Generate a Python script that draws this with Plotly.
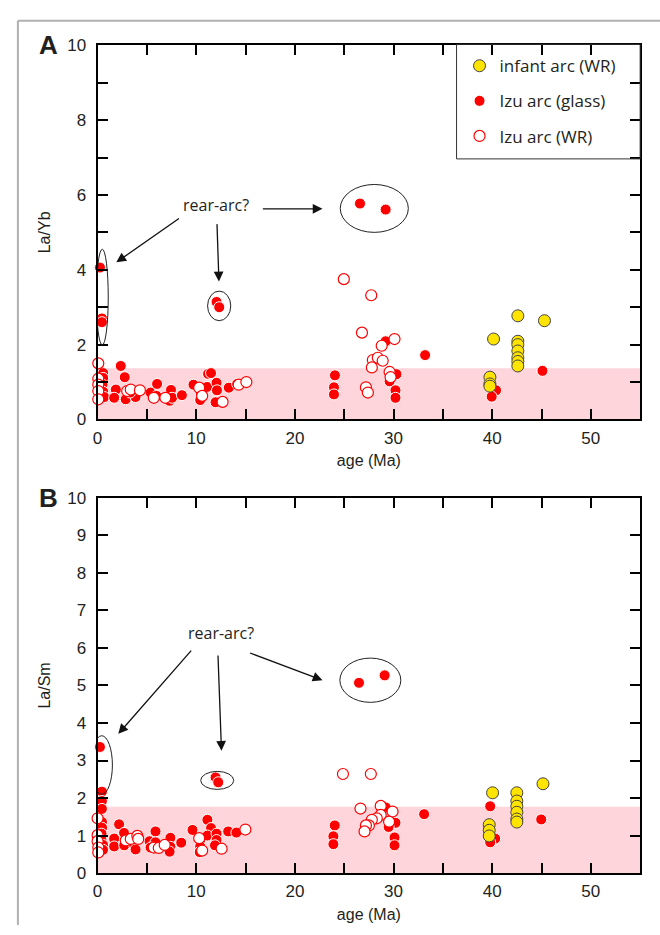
import plotly.graph_objects as go

# ---------------- data: panel A (La/Yb) ----------------
a_glass_x = [0.24, 0.44, 0.44, 0.57, 0.57, 0.5, 0.57, 0.67, 2.35, 2.75, 1.85, 1.68, 2.85, 3.85,
             3.3, 5.37, 6.03, 5.97, 7.44, 7.3, 7.55, 8.55, 9.72, 10.45, 10.4, 11.2, 11.5, 11.1,
             12.06, 12.1, 11.96, 13.3, 14.15, 12.06, 12.33, 26.6, 29.2,
             24.06, 23.96, 23.96, 29.2, 30.3, 29.6, 30.2, 30.2, 33.2, 40.4, 39.95, 45.1]
a_glass_y = [4.06, 2.70, 2.60, 1.24, 1.11, 0.93, 0.74, 0.60, 1.43, 1.13, 0.80, 0.58, 0.54, 0.60,
             0.72, 0.72, 0.95, 0.63, 0.79, 0.50, 0.58, 0.65, 0.93, 0.72, 0.52, 1.22, 1.24, 0.87,
             0.98, 0.78, 0.46, 0.85, 0.95, 3.14, 3.00, 5.77, 5.61,
             1.18, 0.86, 0.67, 2.09, 1.21, 1.02, 0.78, 0.58, 1.72, 0.78, 0.61, 1.30]
a_wr_x = [0.07, 0.07, 0.07, 0.07, 0.07, 3.0, 3.36, 4.29, 5.7, 6.87, 10.3, 10.6, 12.67, 14.3, 15.08,
          24.96, 27.74, 26.8, 30.1, 28.8, 27.9, 28.4, 28.9, 27.8, 29.6, 29.7, 27.2, 27.4]
a_wr_y = [1.50, 1.09, 0.93, 0.76, 0.54, 0.76, 0.80, 0.78, 0.58, 0.58, 0.85, 0.63, 0.47, 0.93, 1.00,
          3.75, 3.32, 2.32, 2.15, 1.97, 1.59, 1.65, 1.57, 1.39, 1.27, 1.13, 0.86, 0.72]
a_inf_x = [42.6, 45.3, 40.14, 42.6, 42.6, 42.6, 42.6, 42.6, 42.6, 39.77, 39.77, 39.77]
a_inf_y = [2.77, 2.64, 2.15, 2.09, 2.00, 1.83, 1.65, 1.55, 1.43, 1.13, 0.95, 0.89]

# ---------------- data: panel B (La/Sm) ----------------
b_glass_x = [0.24, 0.44, 0.44, 0.44, 0.45, 0.45, 0.4, 0.4, 0.55, 0.55,
             2.18, 1.68, 1.68, 2.68, 2.7, 3.7, 3.85, 5.27, 5.87, 5.87, 5.37, 7.38, 7.38, 7.3, 8.48,
             9.62, 10.4, 10.4, 10.35, 11.13, 11.5, 11.13, 12.06, 12.06, 11.9, 13.24, 14.07,
             11.96, 12.23, 26.5, 29.1,
             24.04, 23.9, 23.9, 29.2, 30.2, 29.5, 30.1, 30.1, 33.1, 39.8, 40.3, 39.8, 44.97]
b_glass_y = [3.36, 2.17, 1.92, 1.71, 1.36, 1.21, 1.05, 0.88, 0.75, 0.62,
             1.30, 0.92, 0.71, 1.07, 0.74, 0.76, 0.63, 0.85, 1.11, 0.82, 0.68, 0.94, 0.70, 0.57, 0.81,
             1.15, 0.88, 0.71, 0.56, 1.42, 1.20, 1.00, 1.05, 0.88, 0.74, 1.11, 1.08,
             2.55, 2.42, 5.07, 5.27,
             1.27, 0.98, 0.77, 1.75, 1.34, 1.23, 0.95, 0.74, 1.57, 1.78, 0.92, 0.82, 1.43]
b_wr_x = [0.0, 0.0, 0.0, 0.07, 0.07, 2.86, 3.36, 4.03, 4.12, 5.7, 6.2, 6.8, 10.3, 10.6, 12.57, 14.98,
          24.87, 27.7, 26.65, 28.7, 29.9, 28.7, 28.3, 27.8, 29.55, 27.5, 27.2, 27.06]
b_wr_y = [1.46, 1.01, 0.85, 0.68, 0.55, 0.87, 0.91, 0.99, 0.91, 0.68, 0.67, 0.75, 0.93, 0.60, 0.65, 1.16,
          2.64, 2.64, 1.72, 1.79, 1.64, 1.55, 1.46, 1.42, 1.37, 1.27, 1.27, 1.11]
b_inf_x = [40.04, 45.15, 42.5, 42.5, 42.5, 42.5, 42.5, 42.5, 39.7, 39.7, 39.7]
b_inf_y = [2.14, 2.38, 2.14, 1.92, 1.78, 1.62, 1.44, 1.36, 1.29, 1.14, 0.99]

series_names = ["infant arc (WR)", "Izu arc (glass)", "Izu arc (WR)"]
x_ticks = [0, 5, 10, 15, 20, 25, 30, 35, 40, 45, 50, 55]
a_y_ticks = list(range(0, 11))
b_y_ticks = list(range(0, 11))
a_band_top = 1.37
b_band_top = 1.77

# ---------------- figure ----------------
W, H = 660, 935
RED = "#FF0000"
YEL = "#FFE400"
PINK = "#FFD5DC"
INK = "#231F20"
ARIAL = "Liberation Sans, Arial"
TICKFONT = dict(family=ARIAL, size=17, color=INK)
TITLEFONT = dict(family=ARIAL, size=16, color=INK)
TXTFONT = "Open Sans"

def px(v):
    return v / W

def py(v):
    return 1 - v / H

fig = go.Figure()

def add_panel(xa, ya, gx, gy, wx, wy, ix, iy, show):
    fig.add_trace(go.Scatter(
        x=gx, y=gy, mode="markers", name=series_names[1], xaxis=xa, yaxis=ya,
        legendgroup="glass", legendrank=2, showlegend=show, cliponaxis=False,
        marker=dict(size=11, color=RED, line=dict(color="white", width=1))))
    fig.add_trace(go.Scatter(
        x=wx, y=wy, mode="markers", name=series_names[2], xaxis=xa, yaxis=ya,
        legendgroup="wr", legendrank=3, showlegend=show, cliponaxis=False,
        marker=dict(size=11, color="white", line=dict(color=RED, width=1.2))))
    fig.add_trace(go.Scatter(
        x=ix, y=iy, mode="markers", name=series_names[0], xaxis=xa, yaxis=ya,
        legendgroup="inf", legendrank=1, showlegend=show, cliponaxis=False,
        marker=dict(size=12, color=YEL, line=dict(color="#444", width=1))))

add_panel("x", "y", a_glass_x, a_glass_y, a_wr_x, a_wr_y, a_inf_x, a_inf_y, True)
add_panel("x2", "y2", b_glass_x, b_glass_y, b_wr_x, b_wr_y, b_inf_x, b_inf_y, False)

x_lab = [str(v) if v % 10 == 0 and v <= 50 else "" for v in x_ticks]
a_lab = [str(v) if v % 2 == 0 else "" for v in a_y_ticks]
b_lab = [str(v) for v in b_y_ticks]

axis_common = dict(showline=True, linecolor="black", linewidth=2, mirror="ticks",
                   ticks="inside", ticklen=10, tickwidth=1.5, tickcolor="black",
                   showgrid=False, zeroline=False, tickfont=TICKFONT)

xdom = [px(93.3), px(640)]
fig.update_layout(
    xaxis=dict(domain=xdom, range=[0, 55], tickvals=x_ticks, ticktext=x_lab, anchor="y",
               ticklabelstandoff=2,
               title=dict(text="age (Ma)", font=TITLEFONT, standoff=8), **axis_common),
    yaxis=dict(domain=[py(419), py(37)], range=[0, 10], tickvals=a_y_ticks, ticktext=a_lab, anchor="x",
               ticklabelstandoff=6,
               title=dict(text="La/Yb", font=TITLEFONT, standoff=13), **axis_common),
    xaxis2=dict(domain=xdom, range=[0, 55], tickvals=x_ticks, ticktext=x_lab, anchor="y2",
                ticklabelstandoff=2,
                title=dict(text="age (Ma)", font=TITLEFONT, standoff=8), **axis_common),
    yaxis2=dict(domain=[py(882), py(499)], range=[0, 10], tickvals=b_y_ticks, ticktext=b_lab, anchor="x2",
                ticklabelstandoff=6,
                title=dict(text="La/Sm", font=TITLEFONT, standoff=13), **axis_common),
)

shapes = []
# pink bands
shapes.append(dict(type="rect", xref="x", yref="y", x0=0, x1=55, y0=0, y1=a_band_top,
                   fillcolor=PINK, line=dict(width=0), layer="below"))
shapes.append(dict(type="rect", xref="x2", yref="y2", x0=0, x1=55, y0=0, y1=b_band_top,
                   fillcolor=PINK, line=dict(width=0), layer="below"))
# ellipses
for (xr, yr, x0, x1, y0, y1) in [
    ("x", "y", -0.13, 1.08, 1.99, 4.55),
    ("x", "y", 11.15, 13.5, 2.64, 3.43),
    ("x", "y", 24.6, 31.5, 5.0, 6.28),
    ("x2", "y2", -0.66, 1.5, 2.1, 3.66),
    ("x2", "y2", 10.45, 13.8, 2.23, 2.71),
    ("x2", "y2", 24.56, 30.74, 4.55, 5.73),
]:
    shapes.append(dict(type="circle", xref=xr, yref=yr, x0=x0, x1=x1, y0=y0, y1=y1,
                       line=dict(color="#222", width=1), layer="above"))
# outer page frame
shapes.append(dict(type="line", xref="paper", yref="paper", x0=px(13), x1=px(13), y0=0, y1=py(12),
                   line=dict(color="#B0B0B0", width=2)))
shapes.append(dict(type="line", xref="paper", yref="paper", x0=px(13), x1=1, y0=py(12), y1=py(12),
                   line=dict(color="#B0B0B0", width=2)))
# legend box
shapes.append(dict(type="rect", xref="paper", yref="paper", x0=px(455), x1=px(640), y0=py(153), y1=py(36),
                   line=dict(color="#333", width=1), fillcolor="rgba(0,0,0,0)"))

annotations = []
for lab, yy in [("A", 37), ("B", 499)]:
    annotations.append(dict(text="<b>%s</b>" % lab, xref="paper", yref="paper", x=px(44), y=py(yy),
                            xanchor="center", yanchor="middle", showarrow=False,
                            font=dict(family=ARIAL, size=26, color=INK)))
annotations.append(dict(text="rear-arc?", xref="x", yref="y", x=12.0, y=5.73, showarrow=False,
                        font=dict(family=TXTFONT, size=16, color=INK)))
annotations.append(dict(text="rear-arc?", xref="x2", yref="y2", x=12.56, y=6.4, showarrow=False,
                        font=dict(family=TXTFONT, size=16, color=INK)))
for (xr, yr, tx, ty, hx, hy) in [
    ("x", "y", 8.4, 5.4, 1.9, 4.2),
    ("x", "y", 12.1, 5.26, 12.3, 3.69),
    ("x", "y", 16.6, 5.63, 22.8, 5.63),
    ("x2", "y2", 9.62, 5.97, 2.1, 3.71),
    ("x2", "y2", 12.2, 5.84, 12.56, 3.26),
    ("x2", "y2", 15.3, 5.88, 22.8, 5.14),
]:
    annotations.append(dict(text="", xref=xr, yref=yr, x=hx, y=hy, ax=tx, ay=ty,
                            axref=xr, ayref=yr, showarrow=True, arrowhead=2, arrowsize=1.5,
                            arrowwidth=1.3, arrowcolor="#111"))

fig.update_layout(
    width=W, height=H, autosize=False,
    margin=dict(l=0, r=0, t=0, b=0),
    paper_bgcolor="white", plot_bgcolor="white",
    shapes=shapes, annotations=annotations,
    showlegend=True,
    legend=dict(x=px(458), y=py(40), xanchor="left", yanchor="top",
                traceorder="grouped", tracegroupgap=10,
                bgcolor="rgba(255,255,255,0)", borderwidth=0,
                font=dict(family=TXTFONT, size=17, color=INK),
                itemsizing="trace"),
)

fig.write_html("out.html")
